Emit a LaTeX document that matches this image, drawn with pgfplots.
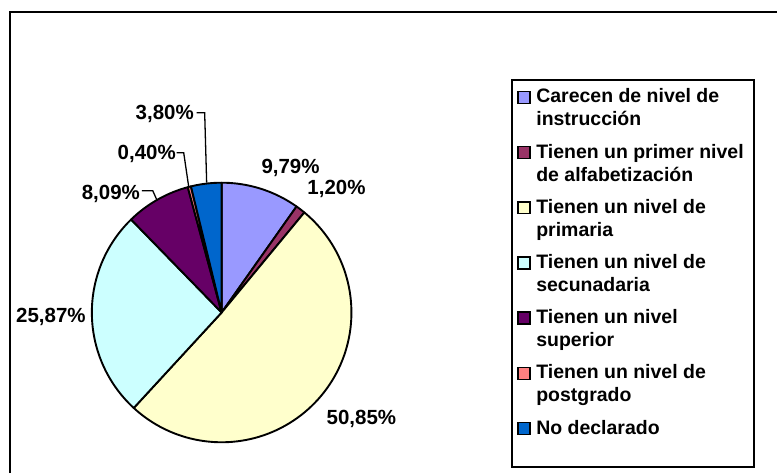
\documentclass[border=0pt]{standalone}
\usepackage{pgfplots}
\usepackage{pgfplotstable}
\pgfplotsset{compat=1.18}
\usepackage{fontspec}
\setmainfont{Liberation Sans}

\definecolor{c1}{HTML}{9999FF}
\definecolor{c2}{HTML}{993366}
\definecolor{c3}{HTML}{FFFFCC}
\definecolor{c4}{HTML}{CCFFFF}
\definecolor{c5}{HTML}{660066}
\definecolor{c6}{HTML}{FF8080}
\definecolor{c7}{HTML}{0066CC}

\pgfplotstableread{
value col
9.79 c1
1.20 c2
50.85 c3
25.87 c4
8.09 c5
0.40 c6
3.80 c7
}\piedata

\def\R{130}
\newcommand{\lab}{\fontsize{20.5}{24}\selectfont\bfseries}
\newcommand{\leg}{\fontsize{19.5}{23}\selectfont\bfseries}

\begin{document}
\begin{tikzpicture}[x=1pt, y=1pt]
\begin{axis}[x=1pt, y=1pt, xmin=-222, xmax=556, ymin=-161, ymax=313,
  hide axis, scale only axis, clip=false, anchor=south west, at={(0,0)}]
\path (axis cs:-222,-161) rectangle (axis cs:556,313);
% pie slices
\def\cum{0}
\pgfplotsforeachungrouped \i in {0,...,6}{
  \pgfplotstablegetelem{\i}{value}\of\piedata
  \let\vv\pgfplotsretval
  \pgfmathsetmacro{\aA}{90-3.6*\cum}
  \pgfmathsetmacro{\cum}{\cum+\vv}
  \pgfmathsetmacro{\aB}{90-3.6*\cum}
  \pgfplotstablegetelem{\i}{col}\of\piedata
  \edef\doplot{\noexpand\addplot[draw=black, line width=1.9pt, line join=round,
     fill=\pgfplotsretval, domain=\aB:\aA, samples=90]
     ({\R*cos(x)},{\R*sin(x)}) -- (axis cs:0,0) -- cycle;}
  \doplot
}
% data labels
\node[font=\lab] at (axis cs:69,145) {9,79\%};
\node[font=\lab] at (axis cs:115,124) {1,20\%};
\node[font=\lab] at (axis cs:140,-107) {50,85\%};
\node[font=\lab] at (axis cs:-171,-4) {25,87\%};
\node[font=\lab] at (axis cs:-111,119) {8,09\%};
\node[font=\lab] at (axis cs:-75,159) {0,40\%};
\node[font=\lab] at (axis cs:-57,199) {3,80\%};
% leader lines
\draw[line width=1.3pt] (axis cs:-80,122) -- (axis cs:-69,122) -- (axis cs:-65,113);
\draw[line width=1.3pt] (axis cs:-45,160) -- (axis cs:-38,160) -- (axis cs:-33,126);
\draw[line width=1.3pt] (axis cs:-25,200) -- (axis cs:-17,200) -- (axis cs:-15,130);
\end{axis}
% outer frame (left and top edges visible)
\draw[line width=2.5pt] (10,0) -- (10,462) -- (778,462);
% legend
\draw[line width=2pt] (513,394) rectangle (755,6);
\foreach \k/\cc/\lA/\lB in {0/c1/Carecen de nivel de/instrucción,
   1/c2/Tienen un primer nivel/de alfabetización,
   2/c3/Tienen un nivel de/primaria,
   3/c4/Tienen un nivel de/secunadaria,
   4/c5/Tienen un nivel/superior,
   5/c6/Tienen un nivel de/postgrado,
   6/c7/No declarado/{}}{
  \pgfmathsetmacro{\bl}{371-55.3*\k}
  \pgfmathsetmacro{\sq}{\bl+5.5}
  \draw[fill=\cc, line width=1.5pt] (519,\sq-6) rectangle (531,\sq+6);
  \node[font=\leg, anchor=base west, inner sep=0pt] at (537,\bl) {\lA};
  \node[font=\leg, anchor=base west, inner sep=0pt] at (537,\bl-23) {\lB};
}
\end{tikzpicture}
\end{document}
